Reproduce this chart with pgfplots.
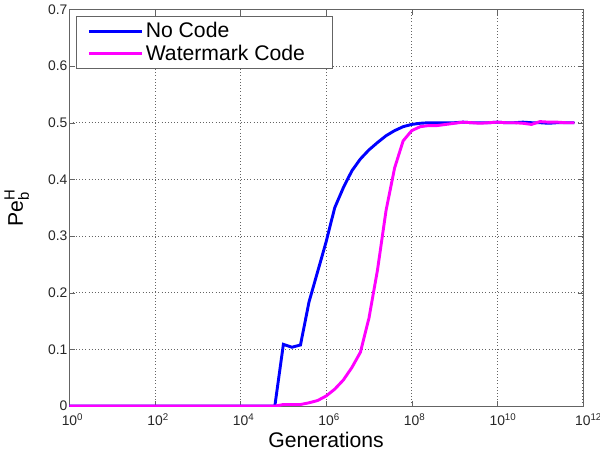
\documentclass[border=0pt]{standalone}
\usepackage{pgfplots}
\pgfplotsset{compat=1.18}
\usepackage{amsmath}
\usepackage{fontspec}
\setmainfont{Liberation Sans}

\definecolor{mblue}{RGB}{0,0,255}
\definecolor{mmag}{RGB}{255,0,255}
\definecolor{axgray}{RGB}{100,100,100}

% tick label anchored on the "10", exponent hangs to the right
\newcommand{\tp}[1]{10\rlap{\textsuperscript{#1}}}

\begin{document}
\begin{tikzpicture}
\begin{axis}[
    scale only axis,
    width=388pt, height=300pt,
    xmode=log,
    xmin=1, xmax=1e12,
    ymin=0, ymax=0.7,
    xtick={1,1e2,1e4,1e6,1e8,1e10,1e12},
    xticklabels={\tp{0},\tp{2},\tp{4},\tp{6},\tp{8},\tp{10},\tp{12}},
    xminorticks=false,
    ytick={0,0.1,0.2,0.3,0.4,0.5,0.6,0.7},
    yticklabels={0,0.1,0.2,0.3,0.4,0.5,0.6,0.7},
    tick label style={font=\fontsize{10.5}{12.5}\selectfont, text=black!85},
    xticklabel style={yshift=-2pt},
    yticklabel style={xshift=2pt},
    tick align=inside,
    major tick length=4pt,
    tick style={axgray},
    axis line style={axgray},
    grid=major,
    major grid style={dotted, axgray, line width=0.6pt},
    xlabel={Generations},
    ylabel={Pe$^{\text{H}}_{\text{b}}$},
    xlabel style={yshift=2pt},
    ylabel style={yshift=7.5pt},
    label style={font=\fontsize{16}{18}\selectfont},
    legend style={at={(0.0136,0.9825)}, anchor=north west, draw=axgray,
        font=\fontsize{16}{19}\selectfont, row sep=0pt,
        inner xsep=8pt, inner ysep=2.5pt},
    legend cell align=left,
    legend image code/.code={\draw[#1] (0pt,0pt) -- (40pt,0pt);},
]
\addplot[mblue, line width=2.2pt] coordinates {
    (1,0) (6.31e4,0) (1e5,0.109) (1.585e5,0.104) (2.512e5,0.108)
    (3.981e5,0.184) (6.31e5,0.237) (1e6,0.290) (1.585e6,0.350)
    (2.512e6,0.385) (3.981e6,0.415) (6.31e6,0.436) (1e7,0.452)
    (1.585e7,0.465) (2.512e7,0.477) (3.981e7,0.486) (6.31e7,0.493)
    (1e8,0.497) (1.585e8,0.499) (2.512e8,0.500) (3.981e8,0.500)
    (6.31e8,0.500) (1e9,0.500) (1.585e9,0.501) (2.512e9,0.500)
    (3.981e9,0.500) (6.31e9,0.500) (1e10,0.501) (1.585e10,0.500)
    (2.512e10,0.500) (3.981e10,0.501) (6.31e10,0.500) (1e11,0.500)
    (1.585e11,0.499) (2.512e11,0.500) (3.981e11,0.500) (6.31e11,0.500)
};
\addlegendentry{No Code}
\addplot[mmag, line width=2.2pt] coordinates {
    (1,0) (6.31e4,0) (1e5,0.003) (1.585e5,0.003) (2.512e5,0.003)
    (3.981e5,0.006) (6.31e5,0.010) (1e6,0.018) (1.585e6,0.030)
    (2.512e6,0.046) (3.981e6,0.068) (6.31e6,0.095) (1e7,0.155)
    (1.585e7,0.240) (2.512e7,0.345) (3.981e7,0.420) (6.31e7,0.468)
    (1e8,0.486) (1.585e8,0.493) (2.512e8,0.495) (3.981e8,0.495)
    (6.31e8,0.497) (1e9,0.499) (1.585e9,0.501) (2.512e9,0.500)
    (3.981e9,0.499) (6.31e9,0.500) (1e10,0.501) (1.585e10,0.500)
    (2.512e10,0.500) (3.981e10,0.499) (6.31e10,0.497) (1e11,0.502)
    (1.585e11,0.501) (2.512e11,0.501) (3.981e11,0.500) (6.31e11,0.500)
};
\addlegendentry{Watermark Code\rule{11pt}{0pt}}
\end{axis}
% room for the hanging exponent of the last tick label
\path (current axis.south east) ++(13pt,0pt);
\end{tikzpicture}
\end{document}
